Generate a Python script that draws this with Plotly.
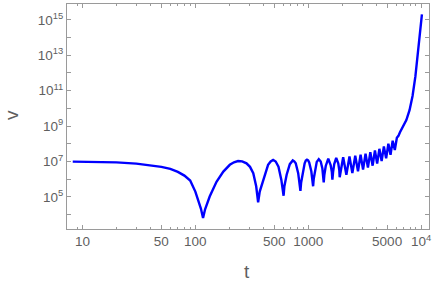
import plotly.graph_objects as go

# Values
t_values = [8.2, 15, 20, 30, 40, 50, 60, 70, 80, 90, 100, 107, 112, 117, 122, 134, 154, 177, 202, 220, 239, 260, 284, 305, 326, 346, 360,
            372, 398, 441, 465, 489, 515, 545, 578, 595, 605,
            615, 644, 687, 708, 730, 752, 775, 815, 840, 853,
            865, 895, 930, 952, 975, 998, 1020, 1065, 1092, 1105,
            1120, 1150, 1190, 1240, 1290, 1335, 1360, 1372,
            1390, 1430, 1505, 1580, 1620, 1637,
            1660, 1700, 1770, 1845, 1885, 1900,
            2040, 2178, 2320, 2460, 2610, 2760, 2910, 3060, 3220, 3380, 3550, 3720, 3900, 4080,
            4270, 4470, 4680, 4900, 5130, 5360, 5600, 5850,
            6100, 6300, 6500, 6900, 7400, 7900, 8400, 8900, 9400, 9800, 10170]
v_values = [9.8e6, 9.3e6, 8.9e6, 7.6e6, 6.3e6, 5.0e6, 3.8e6, 2.6e6, 1.6e6, 8.5e5, 2.0e5, 6.3e4, 2.2e4, 6.5e3, 2.0e4, 1.05e5, 7.2e5, 2.7e6, 6.5e6, 9.1e6, 1.07e7, 1.02e7, 7.9e6, 5.0e6, 2.2e6, 4.0e5, 5.0e4,
            2.0e5, 9.1e5, 6.5e6, 1.0e7, 1.23e7, 1.0e7, 5.1e6, 9.1e5, 3.2e5, 1.17e5,
            4.0e5, 1.8e6, 7.1e6, 9.8e6, 1.15e7, 1.02e7, 7.9e6, 2.2e6, 6.3e5, 2.2e5,
            6.3e5, 2.8e6, 7.9e6, 1.12e7, 1.26e7, 1.15e7, 8.9e6, 2.8e6, 1.0e6, 4.0e5,
            1.1e6, 3.5e6, 9.5e6, 1.35e7, 1.0e7, 4.0e6, 1.6e6, 6.6e5,
            1.8e6, 5.6e6, 1.45e7, 6.3e6, 2.5e6, 9.5e5,
            2.5e6, 7.1e6, 1.58e7, 7.9e6, 3.2e6, 1.3e6,
            1.74e7, 1.8e6, 1.9e7, 2.2e6, 2.1e7, 2.8e6, 2.4e7, 3.5e6, 2.8e7, 4.5e6, 3.3e7, 5.8e6, 4.2e7, 7.6e6,
            5.2e7, 1.05e7, 7.1e7, 1.5e7, 1.0e8, 2.4e7, 1.5e8, 4.5e7,
            2.2e8, 2.8e8, 4.5e8, 8.9e8, 2.2e9, 7.9e9, 5.0e10, 6.3e11, 1.26e13, 1.6e14, 2.0e15]

x_tick_vals = [10, 50, 100, 500, 1000, 5000, 10000]
x_tick_text = ["10", "50", "100", "500", "1000", "5000", "10<sup>4</sup>"]
x_minor_vals = [9, 20, 30, 40, 60, 70, 80, 90, 200, 300, 400, 600, 700, 800, 900,
                2000, 3000, 4000, 6000, 7000, 8000, 9000]
y_tick_vals = [1e5, 1e7, 1e9, 1e11, 1e13, 1e15]
y_tick_text = ["10<sup>5</sup>", "10<sup>7</sup>", "10<sup>9</sup>", "10<sup>11</sup>",
               "10<sup>13</sup>", "10<sup>15</sup>"]
y_minor_vals = [1e4, 1e6, 1e8, 1e10, 1e12, 1e14]

LINE = "#9a9a9a"
TEXT = "#5f5f5f"

fig = go.Figure()
fig.add_trace(go.Scatter(x=t_values, y=v_values, mode="lines",
                         line=dict(color="#0000ff", width=2.4), hoverinfo="skip"))

fig.update_layout(
    width=436, height=286,
    margin=dict(l=67, r=7, t=4, b=57),
    paper_bgcolor="white", plot_bgcolor="white",
    showlegend=False,
    font=dict(family="Liberation Sans, Arial, sans-serif", size=13, color=TEXT),
)
fig.update_xaxes(
    type="log", range=[0.863, 4.07],
    tickmode="array", tickvals=x_tick_vals, ticktext=x_tick_text,
    ticks="inside", ticklen=4, tickcolor=LINE, tickwidth=1,
    minor=dict(tickmode="array", tickvals=x_minor_vals, ticks="inside", ticklen=2, tickcolor=LINE),
    showline=True, linecolor=LINE, linewidth=1, mirror="allticks",
    showgrid=False, zeroline=False, automargin=False,
    tickfont=dict(size=13.5, color=TEXT),
)
fig.update_yaxes(
    type="log", range=[3.19, 15.89],
    tickmode="array", tickvals=y_tick_vals, ticktext=y_tick_text,
    ticks="inside", ticklen=4, tickcolor=LINE, tickwidth=1,
    minor=dict(tickmode="array", tickvals=y_minor_vals, ticks="inside", ticklen=4, tickcolor=LINE),
    showline=True, linecolor=LINE, linewidth=1, mirror="allticks",
    showgrid=False, zeroline=False, automargin=False,
    tickfont=dict(size=13.5, color=TEXT),
)
fig.add_annotation(text="t", x=0.497, y=-0.19, xref="paper", yref="paper",
                   showarrow=False, font=dict(size=19, color=TEXT), xanchor="center", yanchor="middle")
fig.add_annotation(text="v", x=-0.152, y=0.507, xref="paper", yref="paper", textangle=-90,
                   showarrow=False, font=dict(size=19, color=TEXT), xanchor="center", yanchor="middle")

fig.write_html("out.html", config={"displayModeBar": False},
               post_script="document.body.style.margin='0';document.body.style.padding='0';")
